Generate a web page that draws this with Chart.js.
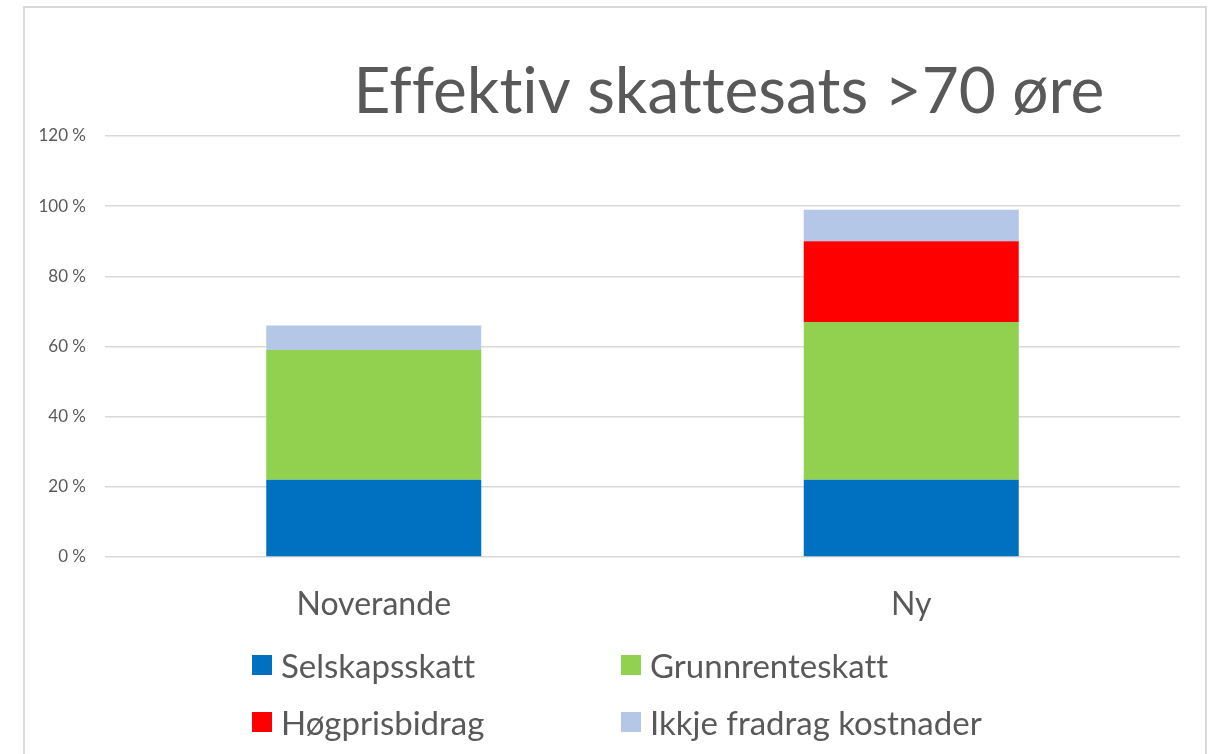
<!DOCTYPE html>
<html lang="no">
<head>
<meta charset="UTF-8">
<title>Effektiv skattesats >70 øre</title>
<script src="https://cdn.jsdelivr.net/npm/chart.js"></script>
<style>
  body {
    margin: 0;
    width: 1210px;
    height: 754px;
    overflow: hidden;
    background: #fff;
    font-family: Lato, "Noto Sans", sans-serif;
  }
  #frame {
    position: absolute;
    left: 23px;
    top: 6px;
    width: 1180px;
    height: 800px;
    border: 2px solid #d9d9d9;
  }
  #wrap {
    position: absolute;
    left: 0;
    top: 0;
    width: 1210px;
    height: 754px;
  }
  #legend {
    position: absolute;
    left: 252px;
    top: 646px;
    display: grid;
    grid-template-columns: 369px 369px;
    grid-auto-rows: 57px;
    color: #595959;
    font-size: 33px;
    font-variant-ligatures: none;
  }
  .item {
    display: flex;
    align-items: center;
    height: 38px;
    white-space: nowrap;
  }
  .box {
    width: 20px;
    height: 20px;
    margin-right: 9px;
    flex: none;
  }
</style>
</head>
<body>
<div id="frame"></div>
<div id="wrap"><canvas id="taxChart"></canvas></div>
<div id="legend"></div>

<script>
  // values in percent
  const categories = ['Noverande', 'Ny'];
  const seriesNames = ['Selskapsskatt', 'Grunnrenteskatt', 'Høgprisbidrag', 'Ikkje fradrag kostnader'];
  const selskapsskatt = [22, 22];
  const grunnrenteskatt = [37, 45];
  const hogprisbidrag = [0, 23];
  const ikkjeFradrag = [7, 9];
  const seriesColors = ['#0070C0', '#92D050', '#FF0000', '#B4C7E7'];
  const titleText = 'Effektiv skattesats >70 øre';

  const textColor = '#595959';
  const gridColor = '#d9d9d9';

  // title sits off-centre like the original, so draw it ourselves
  const titlePlugin = {
    id: 'offsetTitle',
    afterDraw(chart) {
      const ctx = chart.ctx;
      ctx.save();
      ctx.font = '64px Lato';
      ctx.letterSpacing = '0.01px'; // stops the tt / ti ligatures
      ctx.fillStyle = textColor;
      ctx.textAlign = 'center';
      ctx.textBaseline = 'alphabetic';
      ctx.fillText(titleText, 729, 113);
      ctx.restore();
    }
  };

  const seriesData = [selskapsskatt, grunnrenteskatt, hogprisbidrag, ikkjeFradrag];
  const datasets = seriesNames.map((name, i) => ({
    label: name,
    data: seriesData[i],
    backgroundColor: seriesColors[i],
    borderWidth: 0,
    categoryPercentage: 1.0,
    barPercentage: 0.4
  }));

  const ctx = document.getElementById('taxChart').getContext('2d');
  const chart = new Chart(ctx, {
    type: 'bar',
    data: { labels: categories, datasets: datasets },
    options: {
      responsive: true,
      maintainAspectRatio: false,
      animation: false,
      layout: {
        padding: { left: 0, right: 30, top: 136, bottom: 133 }
      },
      plugins: {
        legend: { display: false },
        tooltip: { enabled: false },
        title: { display: false }
      },
      scales: {
        x: {
          stacked: true,
          grid: { display: false },
          border: { display: false },
          ticks: {
            color: textColor,
            font: { family: 'Lato', size: 32 },
            padding: 20
          },
          afterFit(scale) { scale.height = 64; }
        },
        y: {
          stacked: true,
          min: 0,
          max: 120,
          grid: { color: gridColor, lineWidth: 1.5, drawTicks: false },
          border: { display: false },
          ticks: {
            stepSize: 20,
            color: textColor,
            font: { family: 'Lato', size: 17 },
            padding: 19,
            callback: v => v + ' %'
          },
          afterFit(scale) { scale.width = 105; }
        }
      }
    },
    plugins: [titlePlugin]
  });

  // legend in two fixed columns, built from the datasets
  const legend = document.getElementById('legend');
  chart.data.datasets.forEach(ds => {
    const item = document.createElement('div');
    item.className = 'item';
    const box = document.createElement('span');
    box.className = 'box';
    box.style.background = ds.backgroundColor;
    const label = document.createElement('span');
    label.textContent = ds.label;
    item.appendChild(box);
    item.appendChild(label);
    legend.appendChild(item);
  });
</script>
</body>
</html>
